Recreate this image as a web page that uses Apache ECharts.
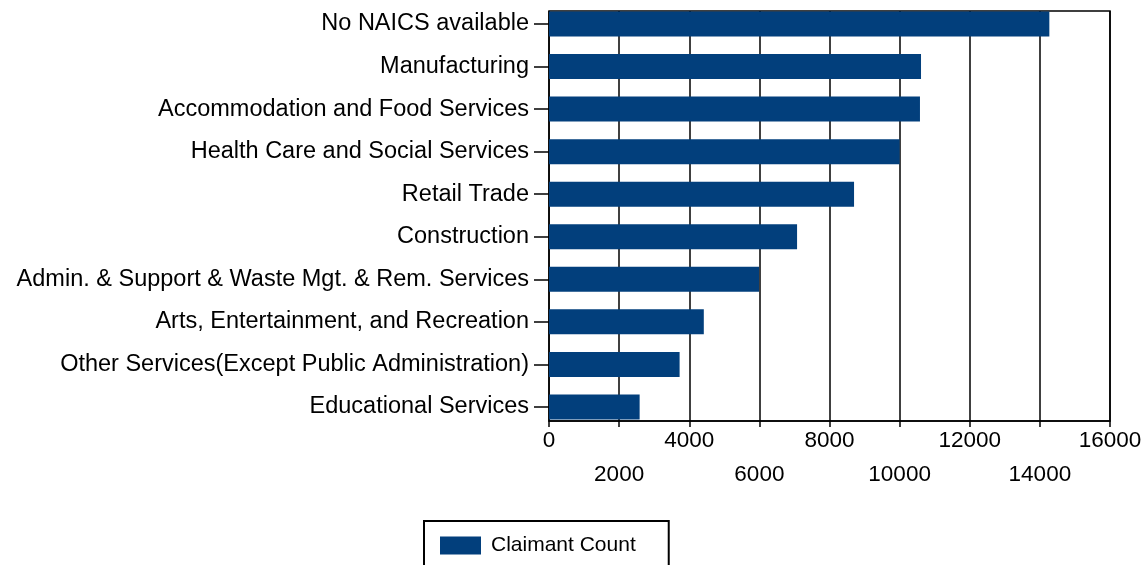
<!DOCTYPE html>
<html>
<head>
<meta charset="utf-8">
<script src="https://cdn.jsdelivr.net/npm/echarts@6/dist/echarts.min.js"></script>
<style>html,body{margin:0;padding:0;background:#fff}#c{width:1145px;height:565px}</style>
</head>
<body>
<div id="c"></div>
<script>
const categories = [
  'No NAICS available',
  'Manufacturing',
  'Accommodation and Food Services',
  'Health Care and Social Services',
  'Retail Trade',
  'Construction',
  'Admin. & Support & Waste Mgt. & Rem. Services',
  'Arts, Entertainment, and Recreation',
  'Other Services(Except Public Administration)',
  'Educational Services'
];
const claimantCount = [14270, 10610, 10580, 10000, 8700, 7075, 5990, 4415, 3725, 2585];
const seriesName = 'Claimant Count';

const FONT = 'Liberation Sans, Arial, sans-serif';
const chart = echarts.init(document.getElementById('c'));
chart.setOption({
  animation: false,
  backgroundColor: '#fff',
  textStyle: { fontFamily: FONT },
  grid: [
    { left: 549, right: 35, top: 2.7, height: 425.5, show: false },
    { left: 549, right: 35, top: 11, height: 410, show: true, borderColor: '#000', borderWidth: 1.5, backgroundColor: 'transparent' }
  ],
  xAxis: [
    { gridIndex: 0, type: 'value', min: 0, max: 16000, show: false },
    {
      gridIndex: 1, type: 'value', min: 0, max: 16000, interval: 2000,
      axisLine: { show: true, lineStyle: { color: '#000', width: 1.5 } },
      axisTick: { show: true, length: 6, lineStyle: { color: '#000', width: 1.5 } },
      splitLine: { show: true, lineStyle: { color: '#000', width: 1.5 } },
      axisLabel: {
        color: '#000', fontSize: 22.5, fontFamily: FONT, lineHeight: 34, margin: 3,
        formatter: function (v) { return (v % 4000 === 0) ? String(v) : '\n' + v; }
      }
    }
  ],
  yAxis: [
    {
      gridIndex: 0, type: 'category', data: categories, inverse: true,
      axisLine: { show: false },
      axisTick: { show: true, alignWithLabel: true, length: 15, lineStyle: { color: '#000', width: 1.5 } },
      axisLabel: { color: '#000', fontSize: 23.5, fontFamily: FONT, margin: 20 }
    },
    { gridIndex: 1, type: 'value', show: false, min: 0, max: 1 }
  ],
  legend: {
    data: [seriesName],
    left: 424, top: 521,
    padding: [14, 33, 14, 16],
    itemWidth: 41, itemHeight: 18,
    icon: 'rect',
    borderColor: '#000', borderWidth: 2,
    textStyle: { color: '#000', fontSize: 21, fontFamily: FONT, padding: [0, 0, 0, 5] }
  },
  series: [{
    name: seriesName,
    type: 'bar',
    xAxisIndex: 0, yAxisIndex: 0,
    data: claimantCount,
    barWidth: 25,
    itemStyle: { color: '#023f7c' }
  }]
});
</script>
</body>
</html>
